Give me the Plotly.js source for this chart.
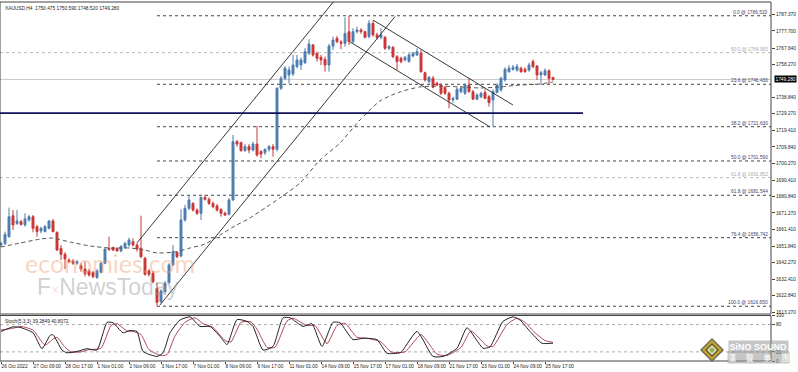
<!DOCTYPE html>
<html><head><meta charset="utf-8">
<script src="https://cdn.plot.ly/plotly-3.0.1.min.js"></script>
<style>html,body{margin:0;padding:0;background:#fff;overflow:hidden}#chart{width:798px;height:372px}</style>
</head><body><div id="chart"></div>
<script>
// ---------- DATA ----------
const header = "XAUUSD,H4  1750.475 1750.590 1748.520 1749.280";
const opens = [1652.5,1653.4,1657.3,1669.6,1665.1,1666.1,1664.2,1667.1,1669.0,1663.2,1660.7,1660.3,1662.2,1666.5,1659.9,1650.5,1647.0,1643.7,1643.1,1641.8,1640.4,1638.4,1637.3,1636.3,1633.4,1636.5,1641.8,1650.5,1650.9,1650.5,1649.0,1650.9,1652.5,1654.4,1652.5,1650.5,1644.7,1637.3,1635.9,1627.1,1619.3,1625.2,1630.5,1640.8,1648.0,1646.0,1667.1,1673.9,1676.8,1672.9,1671.0,1680.3,1679.2,1676.8,1675.3,1673.3,1671.0,1670.4,1678.8,1712.9,1712.3,1707.6,1710.0,1708.0,1711.5,1707.1,1706.5,1708.4,1710.0,1708.4,1744.1,1749.9,1751.9,1752.5,1756.8,1757.7,1759.1,1764.6,1769.4,1764.6,1762.2,1761.0,1757.7,1768.8,1773.3,1771.2,1770.4,1777.2,1771.4,1777.2,1778.2,1777.2,1774.3,1782.1,1775.3,1773.9,1773.9,1767.5,1768.1,1762.6,1761.6,1760.7,1759.7,1763.0,1763.6,1764.6,1753.2,1748.0,1749.9,1747.0,1746.0,1744.7,1741.2,1737.3,1737.7,1742.1,1741.2,1746.0,1742.1,1737.7,1739.2,1741.6,1739.2,1737.3,1741.6,1743.1,1749.0,1753.8,1755.2,1754.8,1755.8,1755.2,1754.8,1759.7,1757.1,1751.9,1751.9,1754.4,1750.475];
const highs = [1654.4,1660.3,1674.3,1672.9,1672.9,1667.1,1671.0,1670.0,1670.0,1664.2,1663.2,1664.2,1667.1,1667.7,1660.3,1652.5,1648.2,1644.7,1644.3,1643.7,1641.8,1642.7,1638.4,1637.3,1638.4,1642.7,1650.5,1657.3,1651.5,1651.1,1652.5,1654.4,1656.8,1656.4,1653.4,1669.6,1645.6,1638.4,1637.3,1630.6,1626.5,1631.4,1641.8,1652.5,1648.6,1673.3,1675.9,1681.7,1677.5,1673.9,1680.8,1681.7,1680.3,1677.8,1676.4,1673.9,1672.0,1679.8,1716.8,1713.9,1712.9,1711.5,1711.5,1712.9,1722.1,1708.0,1709.0,1711.0,1711.5,1744.7,1751.3,1757.1,1756.8,1763.6,1763.6,1762.2,1767.5,1772.7,1770.0,1765.5,1763.6,1762.6,1770.0,1774.3,1774.7,1772.3,1785.5,1786.52,1779.2,1780.1,1779.2,1777.8,1784.0,1783.6,1776.6,1779.2,1774.7,1769.4,1768.8,1763.6,1762.6,1763.0,1764.6,1765.5,1767.5,1766.5,1753.8,1751.3,1751.3,1748.0,1747.0,1745.5,1742.1,1739.2,1744.7,1745.5,1747.0,1749.9,1743.1,1741.2,1742.1,1743.5,1740.2,1743.5,1747.0,1750.9,1756.4,1757.7,1757.7,1758.3,1756.8,1756.4,1759.1,1761.0,1757.7,1754.4,1755.8,1755.2,1750.59];
const lows = [1651.5,1652.5,1656.8,1661.2,1664.2,1663.8,1663.2,1666.1,1659.9,1657.3,1659.3,1659.9,1661.6,1659.9,1649.0,1643.7,1638.4,1641.8,1640.8,1640.8,1636.9,1634.0,1634.0,1633.0,1632.6,1635.9,1641.2,1649.0,1649.0,1648.6,1648.2,1650.1,1651.5,1651.5,1648.6,1644.7,1634.5,1634.0,1630.1,1616.65,1618.4,1624.2,1629.8,1640.2,1644.7,1645.3,1666.1,1672.9,1672.0,1670.0,1667.1,1678.4,1675.9,1673.9,1672.0,1669.0,1669.4,1669.8,1678.2,1710.0,1707.1,1707.1,1706.1,1707.1,1704.1,1703.2,1705.1,1707.1,1704.1,1707.1,1743.1,1749.0,1747.0,1751.3,1755.8,1754.8,1758.3,1763.6,1762.6,1759.7,1757.7,1753.8,1753.8,1766.5,1770.4,1766.9,1768.4,1769.4,1770.4,1776.2,1775.9,1773.3,1773.3,1774.3,1772.7,1772.7,1766.5,1766.5,1761.6,1754.8,1758.7,1759.7,1759.1,1762.2,1763.0,1753.2,1748.0,1747.0,1744.1,1745.5,1740.2,1740.2,1732.4,1735.7,1737.3,1741.2,1740.2,1741.6,1737.3,1737.3,1738.2,1737.7,1733.4,1721.63,1741.2,1742.1,1748.0,1753.2,1754.4,1753.8,1753.2,1753.2,1753.8,1755.8,1749.0,1747.0,1751.3,1746.6,1748.52];
const closes = [1653.4,1658.7,1669.0,1664.2,1666.5,1664.5,1667.7,1669.0,1662.2,1660.3,1662.2,1663.2,1666.5,1660.3,1649.5,1647.0,1644.3,1642.7,1641.8,1642.7,1638.4,1635.7,1634.9,1634.0,1637.3,1641.8,1650.1,1649.9,1649.5,1649.0,1651.5,1653.4,1655.4,1652.5,1650.1,1645.6,1635.3,1635.3,1631.0,1618.9,1625.6,1630.1,1640.8,1648.6,1645.6,1667.1,1673.9,1678.8,1672.9,1671.0,1680.3,1679.2,1676.8,1674.9,1672.9,1671.0,1670.0,1678.8,1712.9,1711.5,1707.6,1710.0,1708.0,1711.5,1705.1,1705.7,1708.4,1710.0,1708.4,1744.1,1749.9,1755.8,1754.8,1757.7,1760.7,1760.7,1765.5,1770.0,1763.6,1761.6,1760.7,1757.7,1768.8,1772.3,1771.4,1770.4,1776.2,1771.4,1777.2,1778.2,1777.2,1773.9,1782.1,1775.3,1773.9,1775.3,1767.5,1768.4,1762.6,1759.7,1759.7,1762.2,1763.6,1764.6,1765.5,1753.8,1749.0,1750.5,1744.7,1746.0,1741.2,1741.2,1737.3,1738.2,1743.5,1744.1,1746.0,1742.1,1737.7,1740.2,1741.2,1738.2,1735.7,1742.1,1746.0,1749.9,1755.2,1755.8,1756.4,1756.8,1753.8,1753.8,1757.7,1756.8,1751.9,1753.2,1754.4,1749.9,1749.28];
const timeLabels = ["26 Oct 2022","27 Oct 09:00","28 Oct 17:00","1 Nov 01:00","2 Nov 09:00","3 Nov 17:00","7 Nov 01:00","8 Nov 09:00","9 Nov 17:00","11 Nov 01:00","14 Nov 09:00","15 Nov 17:00","17 Nov 01:00","18 Nov 09:00","21 Nov 17:00","23 Nov 01:00","24 Nov 09:00","25 Nov 17:00"];
const barsPerLabel = 8;
const priceTicks = [1787.370,1777.700,1767.640,1758.270,1738.840,1729.270,1719.410,1709.840,1700.270,1690.410,1680.840,1671.270,1661.410,1651.840,1642.270,1632.410,1622.840,1613.270];
const lastPrice = 1749.280;
// moving average (dashed) read at sample bars
const maBars   = [0,4.75,9.75,13,17.25,22.25,27.25,32.25,36,39,43.5,47.25,51,54.75,58.5,62.25,66,69.75,74.75,79.75,84.75,89.75,94.75,99.75,104.75,109.75,114.75,119.75,124.75,129.75,134.75,138];
const maValues = [1651.3,1653.6,1655.9,1656.5,1654.2,1651.9,1650.7,1650.7,1649.5,1647.8,1648.4,1650.7,1653.0,1658.3,1663.6,1668.3,1674.1,1680.0,1688.7,1702.2,1712.1,1725.6,1736.7,1742.0,1744.9,1745.4,1744.9,1744.3,1744.9,1746.0,1746.6,1747.8];
// stochastic
const stochLabel = "Stoch(5,3,3) 39.2849 40.8072";
const kBars = [0,3,4.75,8,10.25,12.25,13,15.25,16.5,19,21.5,24,26.5,28,30.5,32.25,34,35.5,39,40.5,42.25,44.75,47.25,49.75,52.25,54.75,56.5,59,61.5,63,65.5,68,70.5,72.25,75.5,77.75,80.25,83,84.75,88,90.5,94,96.5,99.75,100.5,104,108,110.5,114,116.5,120.5,122.25,125.5,128,129.75,132.25,135.25,138];
const kValues = [65,75,74,62,27,56,58,24,18,21,27,24,85,84,62,67,65,21,10,18,62,90,97,76,76,54,36,91,87,76,24,32,95,95,76,82,32,85,84,47,50,47,17,18,24,65,10,10,28,73,28,31,87,97,90,65,39,39.28];
const dBars = [0,3,5,8,11,13,14,16,17.5,20,22,25,27.5,29,31.5,33,35,37,40,41.5,43.5,46,48.5,50.5,53,56,57.5,60,62.5,64,66.5,68.5,71.5,73,76.5,78.5,81.5,84,86,89,91.5,95,97.5,101,105,109,111.5,115,117.5,121.5,123,126.5,129,131,133.5,136,138];
const dValues = [68,72,76,68,35,48,52,30,20,20,25,28,78,82,66,65,58,25,12,14,55,85,95,82,74,45,42,85,86,70,30,30,88,94,78,78,38,78,83,52,50,42,20,20,58,15,12,30,66,33,32,80,94,85,62,45,40.81];
// fibonacci retracement (dark) and second set (grey)
const fibNames  = ["0.0","23.6","38.2","50.0","61.8","76.4","100.0"];
const fibLevels = [1786.520,1746.430,1721.630,1701.590,1681.544,1656.742,1616.650];
const fibStartBar = 39;
const greyFibNames  = ["50.0","61.8"];
const greyFibLevels = [1764.965,1691.852];
// horizontal support and trend channels [bar0, price0, bar1, price1]
const supportLevel = 1729.6, supportEndBar = 145.5;
const ascChannel  = [[34,1653.7,83.5,1795.8],[39.75,1617.4,98.5,1786.0]];
const descChannel = [[93,1784.0,128,1734.3],[87.25,1771.2,122.25,1721.5]];

// ---------- LAYOUT ----------
const W=798,H=372,ML=0,MR=27,MT=2,MB=11;
const PW=W-ML-MR, PH=H-MT-MB;
const px = x => (x-ML)/PW;
const py = y => (H-MB-y)/PH;
const xRange=[-0.25,-0.25+PW/4];
const mainTop=2, mainBot=314, stTop=315.5, stBot=361;
const yRange=[1612.11,1794.56];
const FONT="Liberation Sans, Arial, sans-serif";
const fs=4.8;
const bars = opens.map((_,i)=>i);
const tickBars = timeLabels.map((_,i)=>i*barsPerLabel);

const traces=[
 {type:'candlestick',x:bars,open:opens,high:highs,low:lows,close:closes,xaxis:'x',yaxis:'y',
  increasing:{line:{color:'#4f7db0',width:1},fillcolor:'#4f7db0'},
  decreasing:{line:{color:'#cc3636',width:1},fillcolor:'#cc3636'},
  whiskerwidth:0,hoverinfo:'skip',showlegend:false},
 {type:'scatter',mode:'lines',x:maBars,y:maValues,xaxis:'x',yaxis:'y',line:{color:'#555',width:1,dash:'4px,3px',shape:'spline',smoothing:0.6},hoverinfo:'skip',showlegend:false},
 {type:'scatter',mode:'lines',x:dBars,y:dValues,xaxis:'x',yaxis:'y2',line:{color:'#b04a5a',width:1,shape:'spline',smoothing:0.5},hoverinfo:'skip',showlegend:false},
 {type:'scatter',mode:'lines',x:kBars,y:kValues,xaxis:'x',yaxis:'y2',line:{color:'#222',width:1,shape:'spline',smoothing:0.5},hoverinfo:'skip',showlegend:false}
];

const shapes=[];
const annotations=[];
// frames
shapes.push({type:'rect',xref:'paper',yref:'paper',x0:0,x1:1,y0:py(mainBot),y1:py(mainTop),line:{color:'#444',width:1},layer:'above'});
shapes.push({type:'rect',xref:'paper',yref:'paper',x0:0,x1:1,y0:0,y1:py(stTop),line:{color:'#444',width:1},layer:'above'});
// current price line
shapes.push({type:'line',xref:'paper',yref:'y',x0:0,x1:1,y0:lastPrice,y1:lastPrice,line:{color:'#c8c8c8',width:1},layer:'below'});
// grey fib set
greyFibLevels.forEach((v,k)=>{
  shapes.push({type:'line',xref:'paper',yref:'y',x0:0,x1:1,y0:v,y1:v,line:{color:'#b8b8b8',width:1,dash:'dot'},layer:'below'});
  annotations.push({xref:'x',yref:'y',x:xRange[1],y:v,xanchor:'right',yanchor:'bottom',showarrow:false,xshift:-1,yshift:-1,
    text:greyFibNames[k]+' @ '+v.toFixed(3),font:{family:FONT,size:fs,color:'#a8a8b0'}});
});
// dark fib set
fibLevels.forEach((v,k)=>{
  shapes.push({type:'line',xref:'x',yref:'y',x0:fibStartBar,x1:xRange[1],y0:v,y1:v,line:{color:'#444',width:1,dash:'dot'},layer:'below'});
  annotations.push({xref:'x',yref:'y',x:xRange[1],y:v,xanchor:'right',yanchor:'bottom',showarrow:false,xshift:-1,yshift:-1,
    text:fibNames[k]+' @ '+v.toFixed(3),font:{family:FONT,size:fs,color:'#3c3c6e'}});
});
// support line
shapes.push({type:'line',xref:'x',yref:'y',x0:xRange[0],x1:supportEndBar,y0:supportLevel,y1:supportLevel,line:{color:'#10105a',width:1.6}});
// channels
ascChannel.concat(descChannel).forEach(c=>{
  shapes.push({type:'line',xref:'x',yref:'y',x0:c[0],y0:c[1],x1:c[2],y1:c[3],line:{color:'#222',width:0.9}});
});
// stoch levels
[80,20].forEach(v=>shapes.push({type:'line',xref:'paper',yref:'y2',x0:0,x1:1,y0:v,y1:v,line:{color:'#aaa',width:1,dash:'dot'},layer:'below'}));

// header texts
annotations.push({xref:'paper',yref:'paper',x:px(3),y:py(4),xanchor:'left',yanchor:'top',showarrow:false,text:header,font:{family:FONT,size:fs,color:'#222'}});
annotations.push({xref:'paper',yref:'paper',x:px(3),y:py(317),xanchor:'left',yanchor:'top',showarrow:false,text:stochLabel,font:{family:FONT,size:fs,color:'#222'}});
// last price box
annotations.push({xref:'paper',yref:'y',x:1,y:lastPrice,xanchor:'left',yanchor:'middle',xshift:3,showarrow:false,
  text:lastPrice.toFixed(3),bgcolor:'#000',borderpad:0.5,font:{family:FONT,size:fs,color:'#fff'}});
// watermarks
annotations.push({xref:'paper',yref:'paper',x:px(110),y:py(263),xanchor:'center',yanchor:'middle',showarrow:false,
  text:'economies.com',font:{family:'Lato, Liberation Sans, sans-serif',size:25,color:'rgba(238,160,115,0.45)'}});
annotations.push({xref:'paper',yref:'paper',x:px(108),y:py(287),xanchor:'center',yanchor:'middle',showarrow:false,
  text:'F<span style="color:rgba(225,120,100,0.5);font-size:14px">×</span>NewsToday',font:{family:'Liberation Sans Narrow, Liberation Sans, sans-serif',size:23,color:'rgba(150,150,150,0.45)'}});
// logo
const cx=712, cy=350;
[[12,'#6a6a58'],[10,'#caa52a'],[7,'#5a5a3a'],[5,'#e8e4c0'],[3,'#8fb24a']].forEach(d=>{
  const r=d[0];
  shapes.push({type:'path',xref:'paper',yref:'paper',fillcolor:d[1],line:{width:0},layer:'above',
   path:`M ${px(cx)} ${py(cy-r)} L ${px(cx+r)} ${py(cy)} L ${px(cx)} ${py(cy+r)} L ${px(cx-r)} ${py(cy)} Z`});
});
annotations.push({xref:'paper',yref:'paper',x:px(758),y:py(346),xanchor:'center',yanchor:'middle',showarrow:false,
  text:'<b>SiNO SOUND</b>',bgcolor:'rgba(150,150,150,0.55)',borderpad:0.5,font:{family:FONT,size:9,color:'#ffffff'}});
annotations.push({xref:'paper',yref:'paper',x:px(758),y:py(357),xanchor:'center',yanchor:'middle',showarrow:false,
  text:'漢 　聲 　集 　團',bgcolor:'rgba(150,150,150,0.55)',borderpad:0,font:{family:'Noto Sans CJK TC, sans-serif',size:8,color:'#ffffff'}});

const layout={
  width:W,height:H,margin:{l:ML,r:MR,t:MT,b:MB},paper_bgcolor:'#fff',plot_bgcolor:'#fff',showlegend:false,
  font:{family:FONT,size:fs,color:'#222'},
  xaxis:{range:xRange,anchor:'y2',tickmode:'array',tickvals:tickBars,ticktext:timeLabels,ticks:'outside',ticklen:2,tickcolor:'#444',
    tickangle:0,ticklabelposition:'outside right',tickfont:{family:FONT,size:fs,color:'#222'},showgrid:false,zeroline:false,showline:false,
    rangeslider:{visible:false},fixedrange:true},
  yaxis:{domain:[py(mainBot),py(mainTop)],range:yRange,side:'right',tickmode:'array',tickvals:priceTicks,tickformat:'.3f',
    ticks:'outside',ticklen:3,tickcolor:'#444',tickfont:{family:FONT,size:fs,color:'#222'},showgrid:false,zeroline:false,
    showline:false,fixedrange:true},
  yaxis2:{domain:[0,py(stTop)],range:[0,100],side:'right',tickmode:'array',tickvals:[0,20,80,100],
    ticks:'outside',ticklen:3,tickcolor:'#444',tickfont:{family:FONT,size:fs,color:'#222'},showgrid:false,zeroline:false,
    showline:false,fixedrange:true},
  shapes:shapes,annotations:annotations
};
Plotly.newPlot('chart',traces,layout,{staticPlot:true,displayModeBar:false});
</script></body></html>
